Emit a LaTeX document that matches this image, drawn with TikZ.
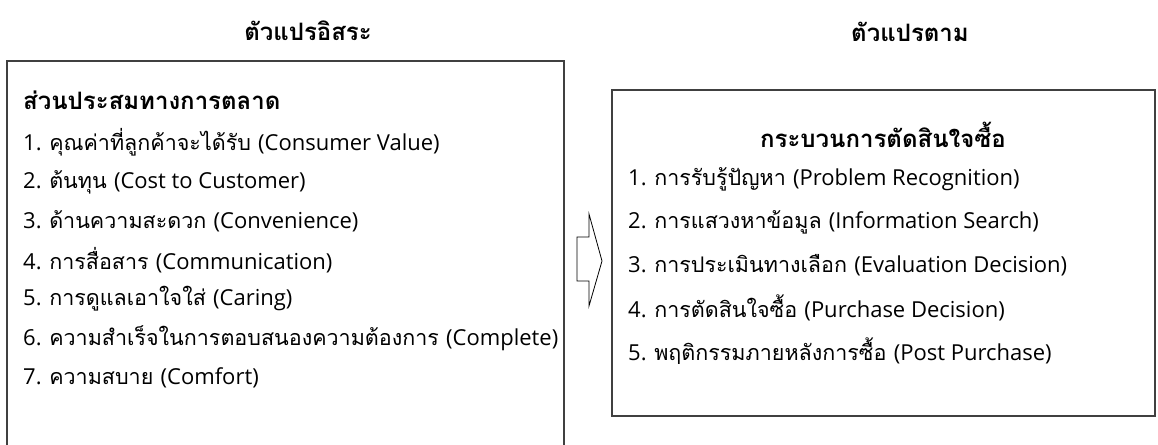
\documentclass[tikz,border=0pt]{standalone}
\usepackage{fontspec}
\setmainfont[Script=Thai]{Loma}
\newfontfamily\latfont{Open Sans}
\newcommand{\lt}[1]{{\latfont\fontsize{22}{26}\selectfont #1}}
\begin{document}
\begin{tikzpicture}[x=1pt,y=-1pt,
  box/.style={draw=black!75, line width=1.1pt},
  item/.style={anchor=west, inner sep=0pt, font=\fontsize{21.5}{24}\selectfont},
  head/.style={inner sep=0pt, font=\fontsize{24}{26}\selectfont\bfseries}]
\useasboundingbox (0,0) rectangle (1158,444);
% titles
\node[head] (t1) at (308,31) {ตัวแปรอิสระ};
\node[head] (t2) at (910,32) {ตัวแปรตาม};
% left box (runs past the bottom edge)
\draw[box] (7,460) -- (7,61) -- (564,61) -- (564,460);
\node[head, anchor=west] (lh) at (23,100) {ส่วนประสมทางการตลาด};
\node[item] (l1) at (23,142) {\lt{1. }คุณค่าที่ลูกค้าจะได้รับ \lt{(Consumer Value)}};
\node[item] (l2) at (23,182) {\lt{2. }ต้นทุน \lt{(Cost to Customer)}};
\node[item] (l3) at (23,221) {\lt{3. }ด้านความสะดวก \lt{(Convenience)}};
\node[item] (l4) at (23,260) {\lt{4. }การสื่อสาร \lt{(Communication)}};
\node[item] (l5) at (23,299) {\lt{5. }การดูแลเอาใจใส่ \lt{(Caring)}};
\node[item] (l6) at (23,338) {\lt{6. }ความสำเร็จในการตอบสนองความต้องการ \lt{(Complete)}};
\node[item] (l7) at (23,378) {\lt{7. }ความสบาย \lt{(Comfort)}};
% arrow
\draw[black, line width=0.8pt, line join=miter]
  (577,237) -- (589,237) -- (589,214) -- (602,261) -- (589,306) -- (589,281) -- (577,281) -- cycle;
% right box
\draw[box] (612,90) rectangle (1155,416);
\node[head] (rh) at (883,135) {กระบวนการตัดสินใจซื้อ};
\node[item] (r1) at (628,179) {\lt{1. }การรับรู้ปัญหา \lt{(Problem Recognition)}};
\node[item] (r2) at (628,222) {\lt{2. }การแสวงหาข้อมูล \lt{(Information Search)}};
\node[item] (r3) at (628,265) {\lt{3. }การประเมินทางเลือก \lt{(Evaluation Decision)}};
\node[item] (r4) at (628,308) {\lt{4. }การตัดสินใจซื้อ \lt{(Purchase Decision)}};
\node[item] (r5) at (628,351) {\lt{5. }พฤติกรรมภายหลังการซื้อ \lt{(Post Purchase)}};
\end{tikzpicture}
\end{document}
